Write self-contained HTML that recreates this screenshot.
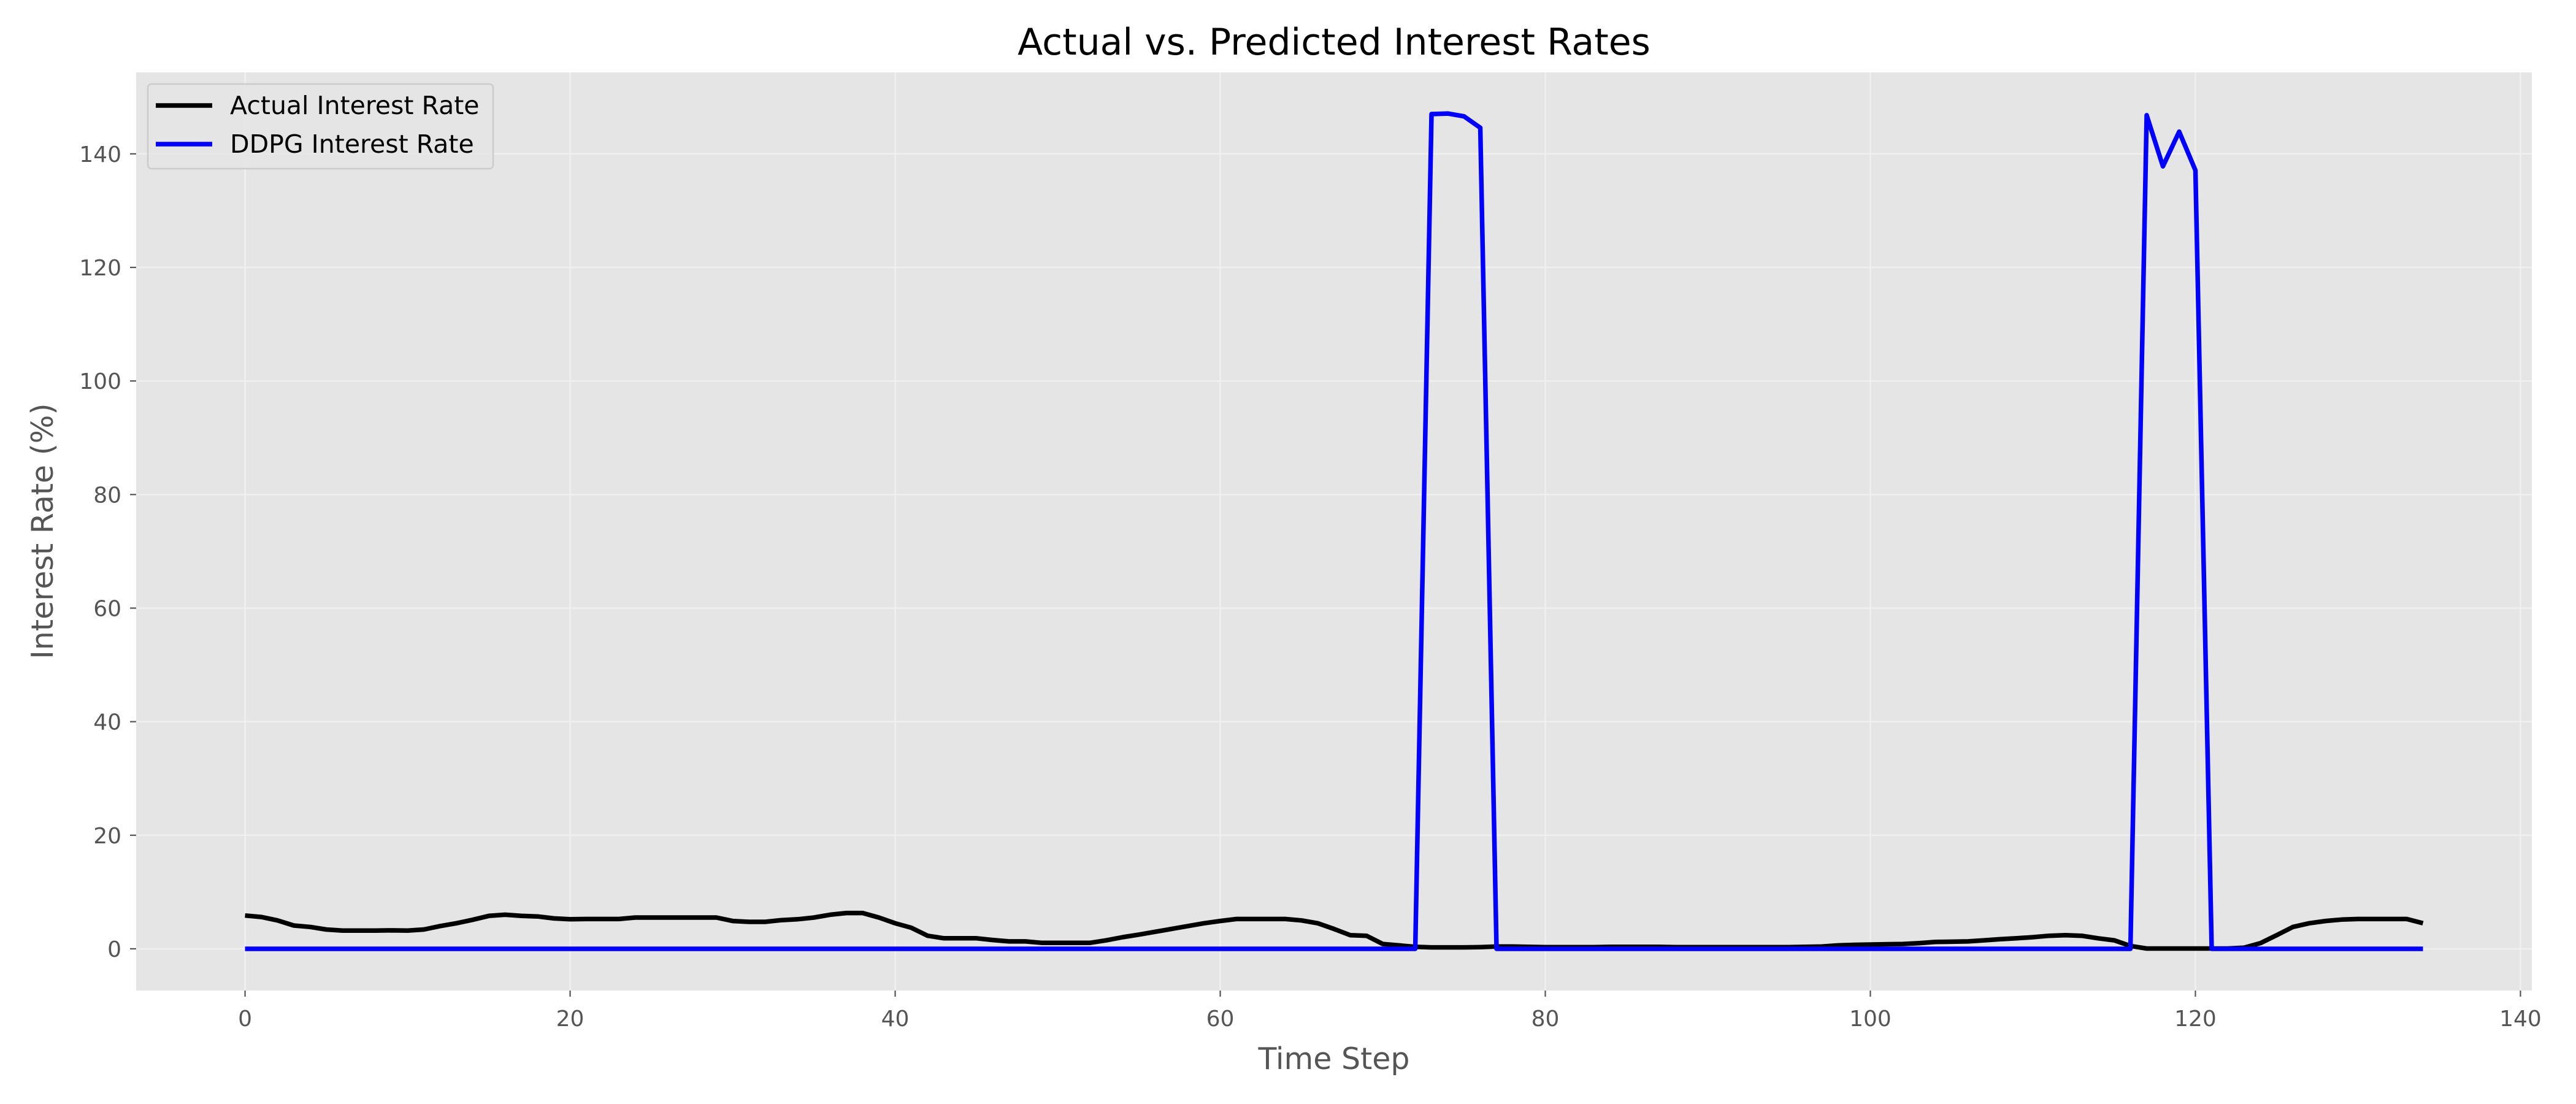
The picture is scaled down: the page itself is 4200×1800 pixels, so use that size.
<!DOCTYPE html>
<html><head><meta charset="utf-8"><style>
html,body{margin:0;padding:0;background:#fff;}
svg{display:block;font-family:"DejaVu Sans","Liberation Sans",sans-serif;}
</style></head><body>
<svg id="chart" width="4200" height="1800" viewBox="0 0 4200 1800">
<rect x="222" y="118" width="3906" height="1497" fill="#E5E5E5"/>
<g id="grid"></g>
<g id="ticks"></g>
<g id="series"></g>
<text x="2175" y="89" font-size="60" text-anchor="middle" fill="#000">Actual vs. Predicted Interest Rates</text>
<text x="2175" y="1743" font-size="49" text-anchor="middle" fill="#555">Time Step</text>
<text x="86" y="866" font-size="49" text-anchor="middle" fill="#555" transform="rotate(-90 86 866)">Interest Rate (%)</text>
<g>
<rect x="241" y="137" width="563" height="138" rx="6" fill="#E5E5E5" fill-opacity="0.8" stroke="#ccc" stroke-width="2.5"/>
<line x1="254" y1="172" x2="346" y2="172" stroke="#000" stroke-width="7.5"/>
<text x="375" y="186" font-size="41" fill="#000">Actual Interest Rate</text>
<line x1="254" y1="235" x2="346" y2="235" stroke="#0000ff" stroke-width="7.5"/>
<text x="375" y="249" font-size="41" fill="#000">DDPG Interest Rate</text>
</g>
</svg>
<script>
const actualRates = [5.86,5.6,5.0,4.1,3.85,3.4,3.2,3.2,3.2,3.25,3.2,3.4,4.0,4.5,5.1,5.8,6.0,5.8,5.7,5.35,
5.2,5.25,5.25,5.25,5.5,5.5,5.5,5.5,5.5,5.5,4.9,4.75,4.75,5.05,5.2,5.5,6.0,6.3,6.3,5.5,
4.5,3.7,2.3,1.85,1.85,1.85,1.55,1.3,1.3,1.05,1.05,1.05,1.05,1.5,2.05,2.5,3.0,3.5,4.0,4.5,
4.9,5.25,5.25,5.25,5.25,5.0,4.5,3.5,2.4,2.3,0.85,0.6,0.35,0.25,0.25,0.25,0.3,0.4,0.4,0.35,
0.3,0.3,0.3,0.3,0.35,0.35,0.35,0.35,0.3,0.3,0.3,0.3,0.3,0.3,0.3,0.3,0.35,0.4,0.6,0.7,
0.75,0.8,0.85,1.0,1.2,1.25,1.3,1.5,1.7,1.85,2.05,2.3,2.4,2.3,1.85,1.5,0.5,0.05,0.05,0.05,
0.05,0.05,0.05,0.2,1.0,2.4,3.85,4.5,4.9,5.15,5.25,5.25,5.25,5.25,4.5];
const ddpgRates = [];
for (let i = 0; i < 135; i++) ddpgRates.push(0);
const ddpgSpikeSteps = [73,74,75,76,117,118,119,120];
const ddpgSpikeValues = [147.0,147.1,146.6,144.6,146.8,137.8,143.9,137.1];
ddpgSpikeSteps.forEach((s, k) => { ddpgRates[s] = ddpgSpikeValues[k]; });
const xTicks = [0,20,40,60,80,100,120,140];
const yTicks = [0,20,40,60,80,100,120,140];

const NS = 'http://www.w3.org/2000/svg';
const PL = 222, PR = 4128, PT = 118, PB = 1615;
const xMin = -6.7, xMax = 140.7, yMin = -7.35, yMax = 154.35;
const xs = v => PL + (v - xMin) / (xMax - xMin) * (PR - PL);
const ys = v => PB - (v - yMin) / (yMax - yMin) * (PB - PT);
function mk(tag, attrs, parent) {
  const e = document.createElementNS(NS, tag);
  for (const k in attrs) e.setAttribute(k, attrs[k]);
  parent.appendChild(e);
  return e;
}
const grid = document.getElementById('grid');
const ticks = document.getElementById('ticks');
const series = document.getElementById('series');
xTicks.forEach(t => {
  const x = xs(t);
  const g = mk('line', {x1:x, x2:x, y1:PT, y2:PB, stroke:'#F0F0F0', 'stroke-width':2.5}, grid);
  
  
  const tk = mk('line', {x1:x, x2:x, y1:PB, y2:PB+10, stroke:'#555', 'stroke-width':2.2}, ticks);
  
  
  const lb = mk('text', {x:x, y:1673, 'font-size':36, 'text-anchor':'middle', fill:'#555'}, ticks);
  lb.textContent = t;
  
  
});
yTicks.forEach(t => {
  const y = ys(t);
  const g = mk('line', {x1:PL, x2:PR, y1:y, y2:y, stroke:'#F0F0F0', 'stroke-width':2.5}, grid);
  
  
  const tk = mk('line', {x1:PL-10, x2:PL, y1:y, y2:y, stroke:'#555', 'stroke-width':2.2}, ticks);
  
  
  const lb = mk('text', {x:PL-24, y:y+13, 'font-size':36, 'text-anchor':'end', fill:'#555'}, ticks);
  lb.textContent = t;
  
  
});
function pts(arr) { return arr.map((v, i) => xs(i).toFixed(1) + ',' + ys(v).toFixed(1)).join(' '); }
const la = mk('polyline', {points:pts(actualRates), fill:'none', stroke:'#000', 'stroke-width':7.5, 'stroke-linejoin':'round'}, series);


const lbl = mk('polyline', {points:pts(ddpgRates), fill:'none', stroke:'#0000ff', 'stroke-width':7.5, 'stroke-linejoin':'round'}, series);


</script>
</body></html>
